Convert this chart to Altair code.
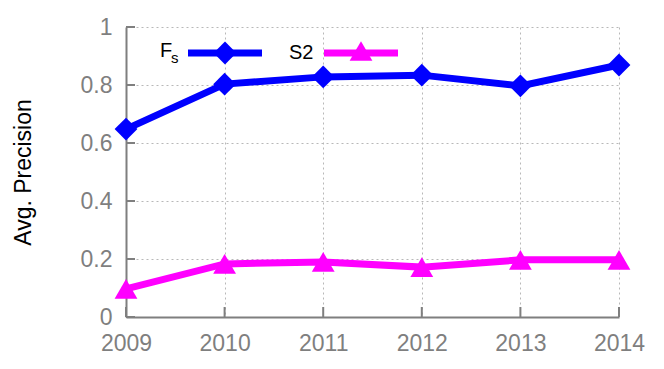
import altair as alt
import pandas as pd

years = [2009, 2010, 2011, 2012, 2013, 2014]
fs_values = [0.648, 0.803, 0.828, 0.834, 0.797, 0.869]
s2_values = [0.097, 0.183, 0.190, 0.172, 0.197, 0.197]
y_ticks = [0, 0.2, 0.4, 0.6, 0.8, 1.0]
series_names = ["Fs", "S2"]
series_colors = ["#0000ff", "#ff00ff"]
series_shapes = ["diamond", "triangle-up"]

df = pd.DataFrame(
    {"year": years * 2,
     "value": fs_values + s2_values,
     "series": ["Fs"] * len(years) + ["S2"] * len(years)}
)

FONT = "Liberation Sans Narrow, Liberation Sans, Arial Narrow, sans-serif"
GRAY = "#7f7f7f"
W, H = 493, 290

xs = alt.X("year:Q", scale=alt.Scale(domain=[2009, 2014], nice=False, zero=False),
           axis=alt.Axis(values=years, format="d", title=None, ticks=False,
                         labelFlush=False, labelOverlap=False,
                         labelPadding=15, labelFontSize=23, labelColor=GRAY,
                         labelFont=FONT, domainColor=GRAY, domainWidth=2,
                         gridColor="#b8b8b8", gridDash=[2, 3], gridWidth=1))
ys = alt.Y("value:Q", scale=alt.Scale(domain=[0, 1], nice=False),
           axis=alt.Axis(values=y_ticks, format="~g", title="Avg. Precision", ticks=False,
                         labelFlush=False, labelOverlap=False,
                         labelPadding=14, labelFontSize=23, labelColor=GRAY,
                         labelFont=FONT, domainColor=GRAY, domainWidth=2,
                         gridColor="#b8b8b8", gridDash=[2, 3], gridWidth=1,
                         titleFont=FONT, titleFontSize=23, titleFontWeight="normal",
                         titleColor="black", titleX=-103, titleY=H / 2,
                         titleAngle=-90, titleAlign="center", titleBaseline="middle"))

color = alt.Color("series:N", scale=alt.Scale(domain=series_names, range=series_colors), legend=None)
shape = alt.Shape("series:N", scale=alt.Scale(domain=series_names, range=series_shapes), legend=None)

lines = alt.Chart(df).mark_line(strokeWidth=7).encode(x=xs, y=ys, color=color)
points = alt.Chart(df).mark_point(filled=True, size=520, opacity=1).encode(
    x="year:Q", y="value:Q", color=color, shape=shape)

ytick_df = pd.DataFrame({"v": y_ticks})
xtick_df = pd.DataFrame({"year": years})
yticks = alt.Chart(ytick_df).mark_rule(color=GRAY, strokeWidth=2).encode(
    y="v:Q", x=alt.value(0), x2=alt.value(9))
xticks = alt.Chart(xtick_df).mark_rule(color=GRAY, strokeWidth=2).encode(
    x="year:Q", y=alt.value(H), y2=alt.value(H - 10))

# manual key
legend_df = pd.DataFrame({"k": [0]})
base_leg = alt.Chart(legend_df)
leg = [
    base_leg.mark_text(text="F", font=FONT, fontSize=20, align="left", baseline="middle", color="black")
    .encode(x=alt.value(34), y=alt.value(24)),
    base_leg.mark_text(text="s", font=FONT, fontSize=15, align="left", baseline="middle", color="black")
    .encode(x=alt.value(45), y=alt.value(31)),
    base_leg.mark_rule(color="#0000ff", strokeWidth=7)
    .encode(x=alt.value(62), x2=alt.value(136), y=alt.value(26)),
    base_leg.mark_point(filled=True, shape="diamond", size=520, color="#0000ff", opacity=1)
    .encode(x=alt.value(99), y=alt.value(26)),
    base_leg.mark_text(text="S2", font=FONT, fontSize=20, align="left", baseline="middle", color="black")
    .encode(x=alt.value(163), y=alt.value(26)),
    base_leg.mark_rule(color="#ff00ff", strokeWidth=7)
    .encode(x=alt.value(198), x2=alt.value(272), y=alt.value(26)),
    base_leg.mark_point(filled=True, shape="triangle-up", size=520, color="#ff00ff", opacity=1)
    .encode(x=alt.value(235), y=alt.value(24)),
]

chart = alt.layer(lines, points, yticks, xticks, *leg).properties(
    width=W, height=H,
    autosize=alt.AutoSizeParams(type="none"),
    padding={"left": 118, "top": 19, "right": 37, "bottom": 44},
).configure_view(stroke=None).configure_axis(gridOpacity=1)

chart.save("out.html", embed_options={"renderer": "svg", "actions": False})
